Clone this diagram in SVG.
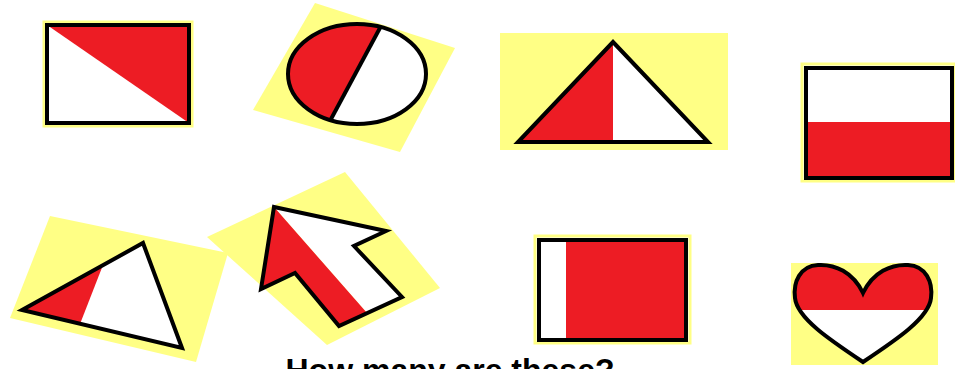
<svg xmlns="http://www.w3.org/2000/svg" width="955" height="369" viewBox="0 0 955 369">
  <style>
    .bg { fill: #ffff85; }
    .red { fill: #ed1c24; }
    .white { fill: #ffffff; }
    .outline { fill: none; stroke: #000000; stroke-width: 4; stroke-linejoin: miter; }
    .halo { fill: none; stroke: #ffff85; stroke-width: 3; }
    .caption { font-family: "Liberation Sans", Arial, sans-serif; font-weight: bold; font-size: 32px; fill: #000000; }
  </style>
  <defs>
    <clipPath id="clipEllipse"><ellipse cx="357" cy="74" rx="69" ry="50"/></clipPath>
    <clipPath id="clipHeart"><path d="M863,293 C853,272 835,264 818,265 C800,266 793,282 795,298 C797,318 830,340 863,362 C896,340 929,318 931,298 C933,282 926,266 908,265 C891,264 873,272 863,293 Z"/></clipPath>
  </defs>
  <rect x="0" y="0" width="955" height="369" fill="#ffffff"/>

  <!-- Shape 1: rectangle with diagonal -->
  <g id="rect-diagonal">
    <rect x="44" y="22" width="148" height="104" class="halo"/>
    <rect x="47" y="25" width="142" height="98" class="white"/>
    <polygon points="47,25 189,25 189,123" class="red"/>
    <rect x="47" y="25" width="142" height="98" class="outline"/>
  </g>

  <!-- Shape 2: circle on rotated square -->
  <g id="circle-split">
    <polygon points="315,3 455,48 400,152 253,110" class="bg"/>
    <ellipse cx="357" cy="74" rx="69" ry="50" class="white"/>
    <polygon points="200,0 395,0 309,160 200,160" class="red" clip-path="url(#clipEllipse)"/>
    <line x1="395" y1="0" x2="309" y2="160" stroke="#000" stroke-width="4" clip-path="url(#clipEllipse)"/>
    <ellipse cx="357" cy="74" rx="69" ry="50" class="outline"/>
  </g>

  <!-- Shape 3: triangle on yellow rect -->
  <g id="triangle-half">
    <rect x="500" y="33" width="228" height="117" class="bg"/>
    <polygon points="613,42 613,142 518,142" class="red"/>
    <polygon points="613,42 708,142 613,142" class="white"/>
    <polygon points="613,42 708,142 518,142" class="outline"/>
  </g>

  <!-- Shape 4: flag rect white over red -->
  <g id="rect-flag">
    <rect x="802" y="64" width="153" height="117" class="halo"/>
    <rect x="806" y="68" width="146" height="54" class="white"/>
    <rect x="806" y="122" width="146" height="56" class="red"/>
    <rect x="806" y="68" width="146" height="110" class="outline"/>
  </g>

  <!-- Shape 5: rotated triangle -->
  <g id="triangle-rotated">
    <polygon points="50,216 228,253 196,362 10,318" class="bg"/>
    <polygon points="22,310 143,243 182,348" class="white"/>
    <polygon points="22,310 103,265 80,324" class="red"/>
    <polygon points="22,310 143,243 182,348" class="outline"/>
  </g>

  <!-- Shape 6: arrow -->
  <g id="arrow">
    <polygon points="345,172 440,288 327,345 207,237" class="bg"/>
    <polygon points="274,207 386,231 354,246 402,297 367,313" class="white"/>
    <polygon points="274,207 367,313 339,326 295,273 261,289" class="red"/>
    <polygon points="274,207 386,231 354,246 402,297 339,326 295,273 261,289" class="outline"/>
  </g>

  <!-- Shape 7: rect with white strip -->
  <g id="rect-strip">
    <rect x="535" y="236" width="155" height="107" class="halo"/>
    <rect x="539" y="240" width="147" height="100" class="red"/>
    <rect x="539" y="240" width="27" height="100" class="white"/>
    <rect x="539" y="240" width="147" height="100" class="outline"/>
  </g>

  <!-- Shape 8: heart -->
  <g id="heart">
    <rect x="791" y="263" width="147" height="102" class="bg"/>
    <path d="M863,293 C853,272 835,264 818,265 C800,266 793,282 795,298 C797,318 830,340 863,362 C896,340 929,318 931,298 C933,282 926,266 908,265 C891,264 873,272 863,293 Z" class="white"/>
    <rect x="780" y="255" width="170" height="55" class="red" clip-path="url(#clipHeart)"/>
    <path d="M863,293 C853,272 835,264 818,265 C800,266 793,282 795,298 C797,318 830,340 863,362 C896,340 929,318 931,298 C933,282 926,266 908,265 C891,264 873,272 863,293 Z" class="outline"/>
  </g>

  <!-- Caption (cut off at the bottom edge, as in the reference) -->
  <g id="caption">
    <text x="450" y="381" text-anchor="middle" class="caption">How many are these?</text>
  </g>
</svg>
